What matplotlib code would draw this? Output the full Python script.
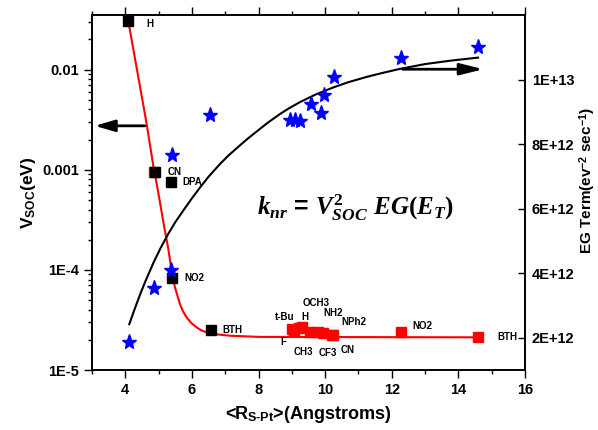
import numpy as np
import matplotlib
matplotlib.use('Agg')
import matplotlib.pyplot as plt
from matplotlib.ticker import MultipleLocator, LogLocator, NullFormatter, FuncFormatter

plt.rcParams['font.family'] = ['Liberation Sans', 'DejaVu Sans']
plt.rcParams['font.weight'] = 'bold'
plt.rcParams['mathtext.fontset'] = 'custom'
plt.rcParams['mathtext.rm'] = 'Liberation Serif:bold'
plt.rcParams['mathtext.it'] = 'Liberation Serif:italic:bold'
plt.rcParams['mathtext.bf'] = 'Liberation Serif:bold'

# black squares: V_SOC vs <R_S-Pt>
blk_names = ['H', 'CN', 'DPA', 'NO2', 'BTH']
blk_r = [4.09, 4.90, 5.36, 5.39, 6.56]
blk_v = [3.06e-2, 9.5e-4, 7.6e-4, 8.2e-5, 2.5e-5]

# red squares (second series, V_SOC)
red_names = ['t-Bu', 'F', 'H', 'OCH3', 'CH3', 'CF3', 'NH2', 'NPh2', 'CN', 'NO2', 'BTH']
red_r = [8.99, 9.05, 9.20, 9.30, 9.54, 9.94, 9.79, 10.22, 10.25, 12.27, 14.59]
red_v = [2.57e-5, 2.45e-5, 2.60e-5, 2.67e-5, 2.42e-5, 2.34e-5, 2.42e-5, 2.24e-5, 2.22e-5, 2.39e-5, 2.12e-5]

# red fit curve
fit_r = [4.09, 4.64, 4.84, 4.99, 5.145, 5.29, 5.39, 5.49, 5.64, 5.73, 5.84, 5.97,
         6.14, 6.27, 6.44, 6.69, 7.14, 8.04, 14.58]
fit_v = [3.06e-2, 2.88e-3, 1.10e-3, 5.93e-4, 2.97e-4, 1.63e-4, 9.84e-5, 6.70e-5, 4.57e-5,
         3.87e-5, 3.36e-5, 2.97e-5, 2.67e-5, 2.50e-5, 2.38e-5, 2.28e-5, 2.20e-5, 2.14e-5, 2.12e-5]

# blue stars: EG term vs <R_S-Pt>
star_r = [4.12, 4.86, 5.36, 5.39, 6.54, 8.95, 9.10, 9.25, 9.56, 9.86, 9.97, 10.27, 12.27, 14.59]
star_eg = [1.88e12, 3.55e12, 4.09e12, 7.66e12, 8.9e12, 8.75e12, 8.75e12, 8.72e12,
           9.24e12, 8.97e12, 9.52e12, 10.08e12, 10.68e12, 11.01e12]

# black fit curve
eg_fit_r = [4.12, 4.25, 4.44, 4.6, 4.84, 5.05, 5.29, 5.5, 5.74, 6.0, 6.24, 6.5, 6.84, 7.1,
            7.44, 7.7, 8.04, 8.3, 8.64, 8.9, 9.24, 9.7, 10.23, 10.7, 11.24, 11.7, 12.24,
            13.0, 13.8, 14.59]
eg_fit = [2.42e12, 2.80e12, 3.33e12, 3.74e12, 4.31e12, 4.76e12, 5.22e12, 5.58e12, 5.94e12,
          6.32e12, 6.65e12, 6.99e12, 7.38e12, 7.65e12, 7.96e12, 8.19e12, 8.47e12, 8.68e12,
          8.93e12, 9.10e12, 9.30e12, 9.53e12, 9.75e12, 9.92e12, 10.08e12, 10.20e12,
          10.33e12, 10.48e12, 10.59e12, 10.68e12]

fig = plt.figure(figsize=(5.98, 4.30), dpi=100)
ax = fig.add_axes([0.1538, 0.1395, 0.7242, 0.8256])
ax2 = ax.twinx()

ax.set_yscale('log')
ax.plot(fit_r, fit_v, color='red', lw=1.5, zorder=2)
ax.plot([4.87], [9.5e-4], 's', color='red', ms=6.5, zorder=3)
ax.plot(blk_r, blk_v, 's', color='black', ms=6.5, zorder=4)
ax.plot(red_r, red_v, 's', color='red', ms=7, zorder=4)

blk_off = [(18, -3), (12, 0), (12, 0), (13, 0), (12, 0)]
for n, r, v, o in zip(blk_names, blk_r, blk_v, blk_off):
    ax.annotate(n, (r, v), xytext=o, textcoords='offset pixels', ha='left', va='center',
                fontsize=7, fontweight='bold')
red_off = [(-7, 12), (-10, -11), (6, 11), (14, 24), (-6, -20), (5, -20), (15, 19),
           (21, 13), (14, -15), (22, 6), (29, 0)]
for n, r, v, o in zip(red_names, red_r, red_v, red_off):
    ax.annotate(n, (r, v), xytext=o, textcoords='offset pixels', ha='center', va='center',
                fontsize=7, fontweight='bold')

ax.annotate('', xy=(3.0, 2.74e-3), xytext=(4.67, 2.74e-3),
            arrowprops=dict(arrowstyle='-|>,head_length=1.2,head_width=0.35',
                            mutation_scale=10, lw=2, color='black'))

ax.set_xlim(3, 16)
ax.set_ylim(1e-5, 0.035)
ax.xaxis.set_major_locator(MultipleLocator(2))
ax.xaxis.set_minor_locator(MultipleLocator(1))
ax.set_yticks([1e-5, 1e-4, 1e-3, 1e-2])
ax.set_yticklabels(['1E-5', '1E-4', '0.001', '0.01'])
ax.yaxis.set_minor_locator(LogLocator(base=10, subs=np.arange(2, 10)))
ax.yaxis.set_minor_formatter(NullFormatter())
ax.tick_params(axis='both', which='major', length=6, width=1, labelsize=10.5)
ax.tick_params(axis='both', which='minor', length=3, width=1)
ax.tick_params(axis='x', top=True, which='both')

ax.set_xlabel('<R$_{\\mathregular{S\u2010Pt}}$>(Angstroms)', fontsize=13, fontweight='bold',
              labelpad=5)
ax.set_ylabel(r'V$_{\mathregular{SOC}}$(eV)', fontsize=12.5, fontweight='bold', labelpad=3)

ax2.plot(eg_fit_r, eg_fit, color='black', lw=1.5, zorder=2)
ax2.plot(star_r, star_eg, '*', color='blue', ms=11, zorder=3)
ax2.annotate('', xy=(14.83, 10.32e12), xytext=(12.24, 10.32e12),
             arrowprops=dict(arrowstyle='-|>,head_length=1.4,head_width=0.35',
                             mutation_scale=10, lw=2, color='black'))
ax2.set_ylim(1e12, 1.2e13)
ax2.set_yticks([2e12, 4e12, 6e12, 8e12, 1e13])

def sci(v, pos):
    e = int(np.floor(np.log10(v)))
    return f'{v / 10**e:.0f}E+{e}'

ax2.yaxis.set_major_formatter(FuncFormatter(sci))
ax2.tick_params(axis='y', direction='in', length=5, width=1, labelsize=10.5, pad=5)
ax2.set_ylabel(r'EG Term(ev$^{\mathregular{-2}}$ sec$^{\mathregular{-1}}$)', fontsize=11,
               fontweight='bold')
ax2.yaxis.set_label_coords(1.12, 0.535)

for a in (ax, ax2):
    for s in a.spines.values():
        s.set_linewidth(1.2)

ax.text(0.38, 0.459, r'$k_{nr}$ = $V_{SOC}^{2}$ $EG(E_T)$', transform=ax.transAxes,
        ha='left', va='center', fontsize=18)

fig.savefig('out.png', dpi=100)
